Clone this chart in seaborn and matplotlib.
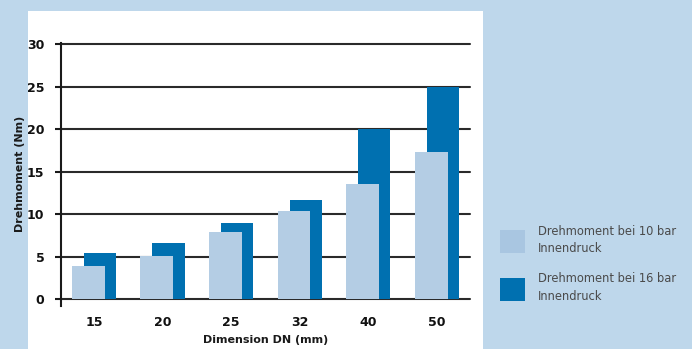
import matplotlib
matplotlib.use("Agg")
import matplotlib.pyplot as plt
import matplotlib.patches as mpatches
import seaborn as sns
import pandas as pd

# Nominal pipe sizes and torque at two internal pressures
dimensions = ["15", "20", "25", "32", "40", "50"]
torque_10bar = [3.9, 5.1, 7.9, 10.4, 13.5, 17.3]
torque_16bar = [5.4, 6.6, 9.0, 11.6, 20.0, 25.0]
y_ticks = [0, 5, 10, 15, 20, 25, 30]
label_10 = "Drehmoment bei 10 bar\nInnendruck"
label_16 = "Drehmoment bei 16 bar\nInnendruck"

LIGHT = "#b4cde4"
DARK = "#0070b0"
BG = "#bed7eb"

sns.set_theme(style="white")
plt.rcParams["font.family"] = ["DejaVu Sans"]

fig = plt.figure(figsize=(6.92, 3.49), dpi=100)
fig.patch.set_facecolor(BG)
# white panel behind the chart
fig.patches.append(mpatches.Rectangle((28 / 692, 0), (483 - 28) / 692, 1 - 11 / 349,
                                      transform=fig.transFigure, facecolor="white",
                                      edgecolor="none", zorder=-5))

ax = fig.add_axes([61 / 692, 1 - 305.5 / 349, (470 - 61) / 692, (305.5 - 43) / 349])
ax.set_facecolor("none")

df = pd.DataFrame({"DN": dimensions, "p10": torque_10bar, "p16": torque_16bar})

shift = 0.085
sns.barplot(data=df, x="DN", y="p16", order=dimensions, color=DARK, saturation=1,
            width=0.47, ax=ax, zorder=2)
n_dark = len(ax.patches)
sns.barplot(data=df, x="DN", y="p10", order=dimensions, color=LIGHT, saturation=1,
            width=0.48, ax=ax, zorder=3)
for i, p in enumerate(ax.patches):
    p.set_edgecolor("none")
    if i < n_dark:
        p.set_x(p.get_x() + shift)
    else:
        p.set_x(p.get_x() - shift)
        p.set_zorder(3)

ax.set_xlim(-0.48, 5.48)
ax.set_ylim(-0.75, 30.12)
ax.set_yticks(y_ticks)
ax.set_yticklabels([str(t) for t in y_ticks])
ax.yaxis.grid(True, color="#2a2a2a", linewidth=1.5)
ax.set_axisbelow(True)
for t in ax.yaxis.get_gridlines():
    t.set_zorder(1)
    t.set_clip_on(False)

for s in ["top", "right", "bottom"]:
    ax.spines[s].set_visible(False)
ax.spines["left"].set_color("#1a1a1a")
ax.spines["left"].set_linewidth(1.5)
ax.spines["left"].set_zorder(4)

ax.tick_params(axis="y", left=True, length=4, width=1.5, color="#1a1a1a", pad=8,
               labelsize=9, labelcolor="#111111")
ax.tick_params(axis="x", bottom=False, length=0, pad=7.5, labelsize=9, labelcolor="#111111")
for lab in ax.get_yticklabels() + ax.get_xticklabels():
    lab.set_fontweight("bold")

ax.set_xlabel("Dimension DN (mm)", fontsize=8, fontweight="semibold",
              color="#1a1a1a", labelpad=4.5)
ax.set_ylabel("Drehmoment (Nm)", fontsize=8, fontweight="semibold",
              color="#1a1a1a", labelpad=1)

handles = [mpatches.Patch(facecolor="#a9c6e1", edgecolor="none", label=label_10),
           mpatches.Patch(facecolor=DARK, edgecolor="none", label=label_16)]
leg = fig.legend(handles=handles, loc="upper left", bbox_to_anchor=(495 / 692, 1 - 220 / 349),
                 frameon=False, fontsize=8.3, handlelength=2.2, handleheight=2.7,
                 labelspacing=1.5, handletextpad=1.1, borderaxespad=0)
for txt in leg.get_texts():
    txt.set_color("#4a4a4a")
    txt.set_linespacing(1.45)

fig.savefig("out.png", dpi=100, facecolor=BG)
